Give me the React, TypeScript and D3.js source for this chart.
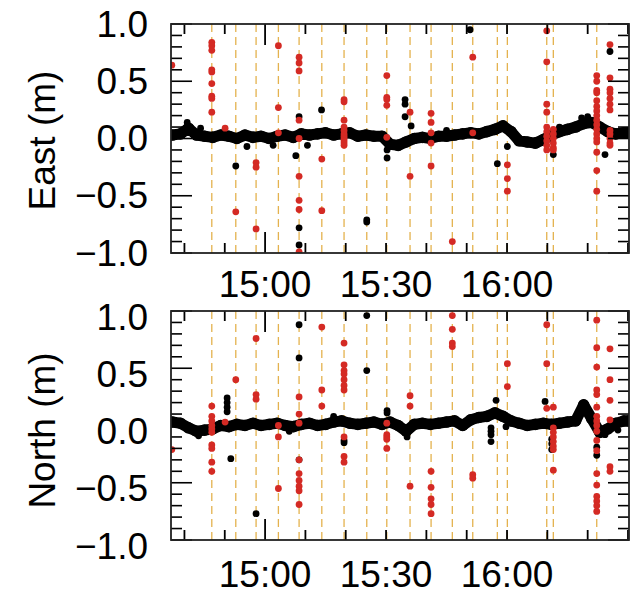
import React from "react";
import * as d3 from "d3";

// ---------- DATA ----------
const timeDomain = ["14:36:40", "16:30:15"];
const xTickLabels = ["15:00", "15:30", "16:00"];
const longXTicks = ["15:00"];
const yTickLabels = [1.0, 0.5, 0.0, -0.5, -1.0];

// orange dashed event lines
const eventTimes = [
  "14:46:47", "14:52:44", "14:57:46", "15:03:18", "15:08:26", "15:14:04",
  "15:19:35", "15:25:13", "15:30:11", "15:35:57", "15:41:10", "15:46:26",
  "15:51:30", "15:57:36", "16:00:05", "16:09:51", "16:11:29", "16:22:15",
];

// band (every 2 minutes)
const bandTimes = [
  "14:37", "14:39", "14:41", "14:43", "14:45", "14:47", "14:49", "14:51", "14:53", "14:55",
  "14:57", "14:59", "15:01", "15:03", "15:05", "15:07", "15:09", "15:11", "15:13", "15:15",
  "15:17", "15:19", "15:21", "15:23", "15:25", "15:27", "15:29", "15:31", "15:33", "15:35",
  "15:37", "15:39", "15:41", "15:43", "15:45", "15:47", "15:49", "15:51", "15:53", "15:55",
  "15:57", "15:59", "16:01", "16:03", "16:05", "16:07", "16:09", "16:11", "16:13", "16:15",
  "16:17", "16:19", "16:21", "16:23", "16:25", "16:27", "16:29", "16:30",
];
const eastBand = [
  0.03, 0.04, 0.09, 0.03, 0.02, 0.01, 0.03, 0.02, 0.0, 0.03,
  0.01, 0.02, 0.0, 0.02, 0.03, 0.01, 0.04, 0.03, 0.04, 0.05,
  0.03, 0.04, 0.05, 0.02, 0.03, 0.02, 0.02, -0.05, -0.06, -0.03,
  0.0, 0.01, 0.0, 0.02, 0.02, 0.03, 0.04, 0.05, 0.04, 0.06,
  0.08, 0.11, 0.06, -0.02, -0.03, -0.04, -0.01, 0.03, 0.06, 0.08,
  0.10, 0.13, 0.14, 0.10, 0.06, 0.04, 0.05, 0.05,
];
const northBand = [
  0.03, 0.02, -0.02, -0.05, -0.04, -0.03, 0.0, -0.01, 0.01, 0.0,
  0.02, 0.0, 0.01, 0.02, 0.0, -0.01, 0.01, 0.02, 0.0, 0.01,
  0.03, 0.04, 0.02, 0.01, 0.02, 0.03, 0.01, 0.03, 0.0, -0.05,
  0.01, 0.02, 0.01, 0.02, 0.03, 0.04, 0.0, 0.05, 0.07, 0.08,
  0.11, 0.08, 0.04, 0.02, 0.0, 0.01, 0.02, 0.01, 0.02, 0.03,
  0.04, 0.18, 0.06, -0.06, -0.03, 0.02, 0.04, 0.04,
];

// outliers: [time, value]
const eastBlack: [string, number][] = [
  ["14:40:41", 0.14], ["15:14:00", 0.25], ["15:08:26", 0.19], ["15:08:26", -0.78], ["15:08:26", -0.93],
  ["15:34:43", 0.34], ["15:34:43", 0.30], ["15:34:43", 0.19], ["15:36:13", 0.11],
  ["15:50:50", 0.95], ["16:25:32", 0.76], ["14:52:44", -0.24], ["15:07:37", -0.15],
  ["15:25:13", -0.73], ["15:25:13", -0.71], ["15:30:15", -0.17], ["15:30:15", -0.10],
  ["15:57:36", -0.22], ["16:00:05", -0.07], ["16:11:29", -0.14], ["16:24:18", -0.14],
  ["14:55:30", -0.07], ["15:02:00", -0.06], ["15:10:30", -0.06], ["14:44:00", 0.09],
  ["15:45:00", 0.07], ["16:13:00", 0.10], ["16:18:30", 0.18], ["16:20:00", 0.19],
];
const northBlack: [string, number][] = [
  ["14:50:35", 0.24], ["14:50:35", 0.20], ["14:50:35", 0.16], ["14:50:35", 0.12],
  ["15:08:26", 0.88], ["15:08:26", 0.59], ["15:08:26", -0.30],
  ["15:25:13", 0.96], ["15:25:13", 0.48], ["15:30:15", 0.11], ["15:30:15", 0.13],
  ["15:57:17", 0.22], ["15:56:02", -0.02], ["15:56:02", -0.05], ["15:56:02", -0.08], ["15:56:02", -0.14],
  ["15:59:45", -0.01], ["16:09:26", 0.21], ["14:51:30", -0.29], ["14:57:46", -0.77],
  ["15:19:35", -0.15], ["15:19:35", -0.13], ["16:11:05", -0.12], ["16:11:05", -0.16], ["16:11:05", -0.21],
  ["16:22:15", -0.19], ["16:22:15", -0.26], ["16:24:18", -0.08], ["15:35:13", -0.10],
  ["14:43:30", -0.09], ["15:17:00", 0.08], ["15:06:00", -0.05], ["16:27:30", -0.04],
];
const eastRed: [string, number][] = [
  ["14:36:52", 0.64],
  ["14:46:47", 0.84], ["14:46:47", 0.81], ["14:46:47", 0.77], ["14:46:47", 0.60], ["14:46:47", 0.58],
  ["14:46:47", 0.48], ["14:46:47", 0.37], ["14:46:47", 0.35], ["14:46:47", 0.23],
  ["14:50:05", 0.09],
  ["14:52:44", -0.64],
  ["14:57:46", -0.21], ["14:57:46", -0.25], ["14:57:46", -0.79],
  ["15:03:18", 0.81], ["15:03:18", 0.27], ["15:03:18", 0.05],
  ["15:08:26", 0.71], ["15:08:26", 0.66], ["15:08:26", 0.59], ["15:08:26", 0.16], ["15:08:26", 0.0],
  ["15:08:26", -0.33], ["15:08:26", -0.54], ["15:08:26", -0.62], ["15:08:26", -0.99],
  ["15:14:04", -0.18], ["15:14:04", -0.63],
  ["15:19:35", 0.34], ["15:19:35", 0.32], ["15:19:35", 0.16], ["15:19:35", 0.10], ["15:19:35", 0.07],
  ["15:19:35", 0.04], ["15:19:35", 0.02], ["15:19:35", 0.0], ["15:19:35", -0.02], ["15:19:35", -0.04], ["15:19:35", -0.06],
  ["15:30:11", 0.55], ["15:30:11", 0.36], ["15:30:11", 0.34], ["15:30:11", 0.29], ["15:30:11", 0.01],
  ["15:35:57", 0.23], ["15:35:57", -0.33],
  ["15:41:10", 0.22], ["15:41:10", 0.14], ["15:41:10", 0.05], ["15:41:10", -0.04], ["15:41:10", -0.24],
  ["15:46:26", -0.90],
  ["15:51:30", 0.71], ["15:51:30", 0.05],
  ["16:00:05", -0.23], ["16:00:05", -0.35], ["16:00:05", -0.46],
  ["16:09:51", 0.94], ["16:09:51", 0.67], ["16:09:51", 0.30], ["16:09:51", 0.23], ["16:09:51", 0.10],
  ["16:09:51", 0.06], ["16:09:51", 0.02], ["16:09:51", -0.02], ["16:09:51", -0.06], ["16:09:51", -0.10],
  ["16:11:29", 0.08], ["16:11:29", 0.04], ["16:11:29", 0.0], ["16:11:29", -0.04], ["16:11:29", -0.08], ["16:11:29", -0.10],
  ["16:22:15", 0.55], ["16:22:15", 0.50], ["16:22:15", 0.42], ["16:22:15", 0.40], ["16:22:15", 0.33],
  ["16:22:15", 0.28], ["16:22:15", 0.24], ["16:22:15", 0.20], ["16:22:15", 0.16], ["16:22:15", 0.12],
  ["16:22:15", 0.08], ["16:22:15", 0.04], ["16:22:15", 0.0], ["16:22:15", -0.03], ["16:22:15", -0.12],
  ["16:22:15", -0.28], ["16:22:15", -0.46],
  ["16:25:32", 0.82], ["16:25:32", 0.53], ["16:25:32", 0.43], ["16:25:32", 0.40], ["16:25:32", 0.35],
  ["16:25:32", 0.30], ["16:25:32", 0.25], ["16:25:32", 0.07], ["16:25:32", 0.04], ["16:25:32", 0.0],
  ["16:25:32", -0.04], ["16:25:32", -0.06],
];
const northRed: [string, number][] = [
  ["14:36:52", -0.21],
  ["14:46:47", 0.17], ["14:46:47", 0.08], ["14:46:47", 0.04], ["14:46:47", 0.0], ["14:46:47", -0.03],
  ["14:46:47", -0.06], ["14:46:47", -0.17], ["14:46:47", -0.20], ["14:46:47", -0.32], ["14:46:47", -0.40],
  ["14:50:05", 0.03],
  ["14:52:44", 0.40],
  ["14:57:46", 0.76], ["14:57:46", 0.27], ["14:57:46", 0.23],
  ["15:03:18", 0.0], ["15:03:18", -0.10], ["15:03:18", -0.55],
  ["15:08:26", 0.25], ["15:08:26", 0.10], ["15:08:26", 0.02], ["15:08:26", -0.30], ["15:08:26", -0.42],
  ["15:08:26", -0.48], ["15:08:26", -0.53], ["15:08:26", -0.57], ["15:08:26", -0.69],
  ["15:14:04", 0.86], ["15:14:04", 0.31], ["15:14:04", 0.17],
  ["15:19:35", 0.72], ["15:19:35", 0.53], ["15:19:35", 0.48], ["15:19:35", 0.45], ["15:19:35", 0.40],
  ["15:19:35", 0.35], ["15:19:35", 0.31], ["15:19:35", -0.10], ["15:19:35", -0.27], ["15:19:35", -0.32],
  ["15:30:11", 0.02], ["15:30:11", -0.08], ["15:30:11", -0.10], ["15:30:11", -0.12], ["15:30:11", -0.20],
  ["15:35:57", 0.26], ["15:35:57", 0.17], ["15:35:57", -0.53],
  ["15:41:10", -0.40], ["15:41:10", -0.54], ["15:41:10", -0.64], ["15:41:10", -0.69], ["15:41:10", -0.77],
  ["15:46:26", 0.96], ["15:46:26", 0.84], ["15:46:26", 0.72], ["15:46:26", 0.69],
  ["15:51:30", -0.43], ["15:51:30", -0.46],
  ["16:00:05", 0.54], ["16:00:05", 0.34],
  ["16:09:51", 0.88], ["16:09:51", 0.54], ["16:09:51", 0.15],
  ["16:11:29", 0.16], ["16:11:29", -0.02], ["16:11:29", -0.06], ["16:11:29", -0.10], ["16:11:29", -0.14],
  ["16:11:29", -0.18], ["16:11:29", -0.21], ["16:11:29", -0.39],
  ["16:22:15", 0.92], ["16:22:15", 0.68], ["16:22:15", 0.51], ["16:22:15", 0.31], ["16:22:15", 0.27],
  ["16:22:15", 0.16], ["16:22:15", 0.08], ["16:22:15", 0.04], ["16:22:15", 0.0], ["16:22:15", -0.05],
  ["16:22:15", -0.13], ["16:22:15", -0.22], ["16:22:15", -0.42], ["16:22:15", -0.52], ["16:22:15", -0.62],
  ["16:22:15", -0.66], ["16:22:15", -0.70], ["16:22:15", -0.75],
  ["16:25:32", 0.67], ["16:25:32", 0.40], ["16:25:32", 0.22], ["16:25:32", 0.05], ["16:25:32", -0.36], ["16:25:32", -0.40],
];

// ---------- LAYOUT ----------
const W = 641;
const H = 595;
const LEFT = 171;
const RIGHT = 629;
const FONT = "'Liberation Sans', Arial, sans-serif";
const FS = 37;
const RED = "#d42a24";
const ORANGE = "#e4b24e";

const parseT = (s: string) => {
  const p = s.split(":").map(Number);
  return new Date(2000, 0, 1, p[0], p[1], p[2] || 0);
};

const x = d3.scaleTime().domain(timeDomain.map(parseT)).range([LEFT, RIGHT]);

type PanelProps = {
  top: number;
  bottom: number;
  label: string;
  labelShift: number;
  band: number[];
  black: [string, number][];
  red: [string, number][];
};

function Panel({ top, bottom, label, labelShift, band, black, red }: PanelProps) {
  const y = d3.scaleLinear().domain([-1, 1]).range([bottom, top]);
  const minorY = d3.range(-10, 11).map((i) => i / 10);
  const xTicks = x.ticks(d3.timeMinute.every(10) as any);
  const bandPts = bandTimes.map((t, i) => [x(parseT(t)), y(band[i])] as [number, number]);
  const line = d3.line();
  const fmt = d3.timeFormat("%H:%M");
  const clipId = "clip" + label.replace(/\W/g, "");
  return (
    <g>
      <defs>
        <clipPath id={clipId}>
          <rect x={LEFT} y={top} width={RIGHT - LEFT} height={bottom - top} />
        </clipPath>
      </defs>
      <g clipPath={`url(#${clipId})`}>
        {eventTimes.map((t, i) => (
          <line key={i} x1={x(parseT(t))} x2={x(parseT(t))} y1={top} y2={bottom}
            stroke={ORANGE} strokeWidth={1.3} strokeDasharray="8,5" />
        ))}
        <path d={line(bandPts) || ""} fill="none" stroke="#000" strokeWidth={11} strokeLinejoin="round" strokeLinecap="round" />
        {bandPts.map((p, i) => (
          <circle key={"b" + i} cx={p[0]} cy={p[1]} r={5.8} fill="#000" />
        ))}
        {black.map(([t, v], i) => (
          <circle key={"k" + i} cx={x(parseT(t))} cy={y(v)} r={3.4} fill="#000" />
        ))}
        {red.map(([t, v], i) => (
          <circle key={"r" + i} cx={x(parseT(t))} cy={y(v)} r={3.4} fill={RED} />
        ))}
      </g>
      {/* y ticks */}
      {minorY.map((v, i) => {
        const len = Math.abs(v * 2 - Math.round(v * 2)) < 1e-6 ? 21 : 11;
        return (
          <g key={"yt" + i}>
            <line x1={LEFT} x2={LEFT + len} y1={y(v)} y2={y(v)} stroke="#000" strokeWidth={1.6} />
            <line x1={RIGHT} x2={RIGHT - len} y1={y(v)} y2={y(v)} stroke="#000" strokeWidth={1.6} />
          </g>
        );
      })}
      {/* x ticks */}
      {xTicks.map((d, i) => {
        const len = longXTicks.includes(fmt(d)) ? 21 : 10;
        return (
          <g key={"xt" + i}>
            <line x1={x(d)} x2={x(d)} y1={top} y2={top + len} stroke="#000" strokeWidth={1.8} />
            <line x1={x(d)} x2={x(d)} y1={bottom} y2={bottom - len} stroke="#000" strokeWidth={1.8} />
          </g>
        );
      })}
      <rect x={LEFT} y={top} width={RIGHT - LEFT} height={bottom - top} fill="none" stroke="#222" strokeWidth={1.8} />
      {/* y labels */}
      {yTickLabels.map((v, i) => (
        <text key={"yl" + i} x={148} y={y(v) + labelShift} textAnchor="end" dominantBaseline="central"
          fontFamily={FONT} fontSize={FS} fill="#000">
          {v < 0 ? "\u2212" + Math.abs(v).toFixed(1) : v.toFixed(1)}
        </text>
      ))}
      {/* x labels */}
      {xTickLabels.map((s, i) => (
        <text key={"xl" + i} x={x(parseT(s))} y={bottom + 44 + labelShift / 2} textAnchor="middle"
          fontFamily={FONT} fontSize={FS} fill="#000">
          {s}
        </text>
      ))}
      <text transform={`translate(42,${(top + bottom) / 2 + 2 + labelShift / 2}) rotate(-90)`} textAnchor="middle"
        dominantBaseline="central" fontFamily={FONT} fontSize={FS} fill="#000">
        {label}
      </text>
    </g>
  );
}

export default function App() {
  return (
    <svg width={W} height={H} style={{ position: "absolute", left: 0, top: 0, background: "#fff" }}>
      <rect width={W} height={H} fill="#fff" />
      <Panel top={24} bottom={253} label="East (m)" labelShift={0} band={eastBand} black={eastBlack} red={eastRed} />
      <Panel top={311} bottom={540} label="North (m)" labelShift={6} band={northBand} black={northBlack} red={northRed} />
    </svg>
  );
}
